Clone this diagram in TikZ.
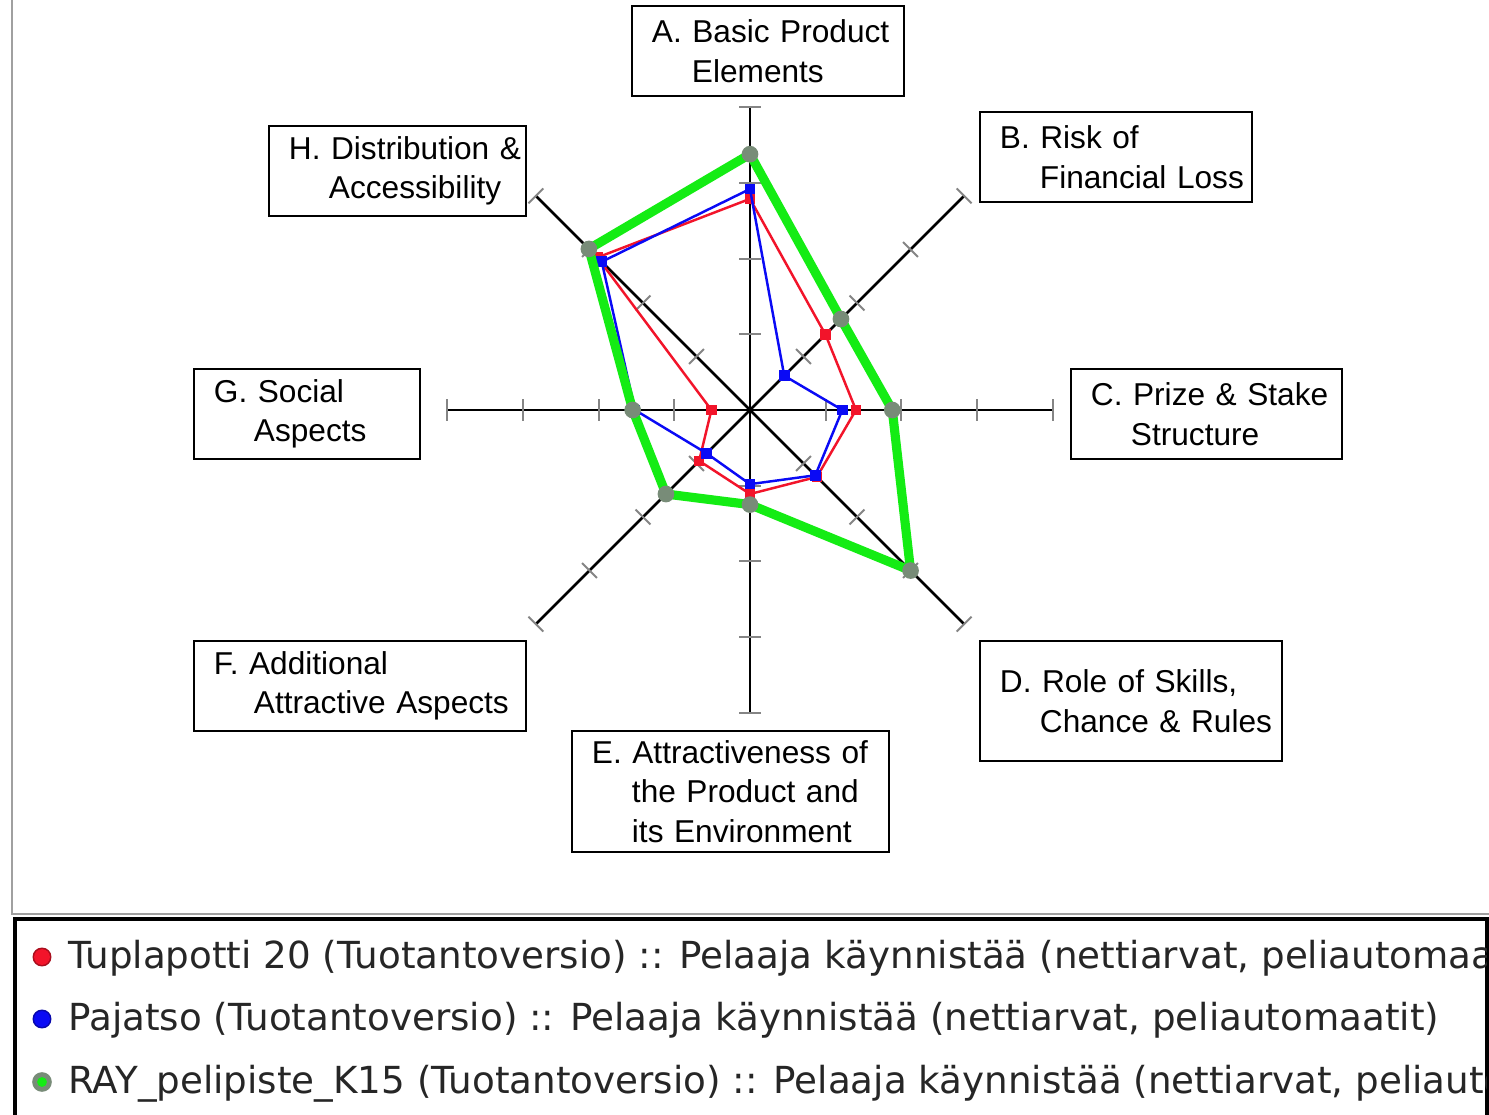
\documentclass[tikz,border=0pt]{standalone}
\usepackage{fontspec}
\setmainfont{Liberation Sans}
\newfontfamily\legfont{DejaVu Sans}
\usetikzlibrary{positioning}
\definecolor{serred}{HTML}{F2142A}
\definecolor{serblue}{HTML}{0A0AF5}
\definecolor{sergreen}{HTML}{14EC14}
\definecolor{markgray}{HTML}{788C78}
\definecolor{framegray}{HTML}{A0A0A0}
\definecolor{tickgray}{HTML}{858585}
\tikzset{
  axis/.style={line width=1.6pt,black},
  tk/.style={line width=1.1pt,tickgray},
  lbl/.style={draw=black,line width=1.1pt,fill=white,anchor=north west,align=left,
    inner xsep=0pt,inner ysep=0pt,font=\fontsize{18}{22.5}\selectfont},
  redser/.style={line width=1.4pt,serred,line join=round},
  blueser/.style={line width=1.4pt,serblue,line join=round},
  greenser/.style={line width=5.2pt,sergreen,line join=round},
  redmark/.style={rectangle,fill=serred,minimum size=6pt,inner sep=0pt},
  bluemark/.style={rectangle,fill=serblue,minimum size=6pt,inner sep=0pt},
  greenmark/.style={circle,fill=markgray,minimum size=9.5pt,inner sep=0pt},
  legtxt/.style={anchor=base west,inner sep=0pt,text=black!85,font=\legfont\fontsize{21.2}{25}\selectfont}
}
\newcommand{\lfirst}{\hspace*{0.4cm}}
\newcommand{\lnext}{\\\hspace*{1.2cm}}
% #1 line style, #2 mark style, #3 name prefix, #4 values A..H
\newcommand{\series}[4]{%
  \foreach \r [count=\k] in {#4} \coordinate (#3\k) at (135-45*\k:\r);
  \draw[#1] (#31)--(#32)--(#33)--(#34)--(#35)--(#36)--(#37)--(#38)--cycle;
  \foreach \k in {1,...,8} \node[#2] (#3m\k) at (#3\k) {};}

\begin{document}
\begin{tikzpicture}[x=0.02cm,y=-0.02cm]
\useasboundingbox (0,0) rectangle (1489,1115);
\fill[white] (0,0) rectangle (1489,1115);
\draw[framegray,line width=1.7pt] (12,0) -- (12,914) -- (1489,914);

% radar chart
\begin{scope}[shift={(750,410)},x=1.514cm,y=1.514cm]
  \coordinate (ctr) at (0,0);
  \foreach \a in {0,45,...,315}{
    \draw[axis] (ctr) -- (\a:4);
    \foreach \r in {1,...,4} \draw[tk,rotate=\a] (\r,-0.14) -- (\r,0.14);
  }
  \series{redser}{redmark}{tp}{2.79,1.41,1.40,1.25,1.11,0.95,0.51,2.85}
  \series{blueser}{bluemark}{pj}{2.92,0.64,1.22,1.22,0.98,0.81,1.52,2.77}
  \series{greenser}{greenmark}{ray}{3.38,1.70,1.88,3.0,1.25,1.57,1.55,3.01}
\end{scope}

% axis labels
\node[lbl,text width=5.44cm,minimum height=1.8cm] (labA) at (631,5) {\lfirst A. Basic Product\lnext Elements};
\node[lbl,text width=5.44cm,minimum height=1.8cm] (labB) at (979,111) {\lfirst B. Risk of\lnext Financial Loss};
\node[lbl,text width=5.42cm,minimum height=1.8cm] (labC) at (1070,368) {\lfirst C. Prize \& Stake\lnext Structure};
\node[lbl,text width=6.04cm,minimum height=2.4cm] (labD) at (979,640) {\lfirst D. Role of Skills,\lnext Chance \& Rules};
\node[lbl,text width=6.34cm,minimum height=2.42cm] (labE) at (571,730) {\lfirst E. Attractiveness of\lnext the Product and\lnext its Environment};
\node[lbl,text width=6.64cm,minimum height=1.8cm] (labF) at (193,640) {\lfirst F. Additional\lnext Attractive Aspects};
\node[lbl,text width=4.52cm,minimum height=1.8cm] (labG) at (193,368) {\lfirst G. Social\lnext Aspects};
\node[lbl,text width=5.14cm,minimum height=1.8cm] (labH) at (268,125) {\lfirst H. Distribution \&\lnext Accessibility};

% legend
\draw[black,line width=2pt] (15,1125) -- (15,919) -- (1487,919) -- (1487,1125);
\fill[serred!70!black] (42,957) circle (5.4pt);
\fill[serred] (42,957) circle (4.5pt);
\fill[serblue!70!black] (42,1019) circle (5.4pt);
\fill[serblue] (42,1019) circle (4.5pt);
\fill[markgray] (42,1082) circle (5.6pt);
\fill[sergreen] (42,1082) circle (2.8pt);
\begin{scope}
  \clip (17,921) rectangle (1486,1115);
  \node[legtxt] (legA) at (68,968) {Tuplapotti 20 (Tuotantoversio) :: Pelaaja käynnistää (nettiarvat, peliautomaatit)};
  \node[legtxt] (legB) at (68,1030) {Pajatso (Tuotantoversio) :: Pelaaja käynnistää (nettiarvat, peliautomaatit)};
  \node[legtxt] (legC) at (68,1093) {RAY\_pelipiste\_K15 (Tuotantoversio) :: Pelaaja käynnistää (nettiarvat, peliautomaatit)};
\end{scope}
\end{tikzpicture}
\end{document}
